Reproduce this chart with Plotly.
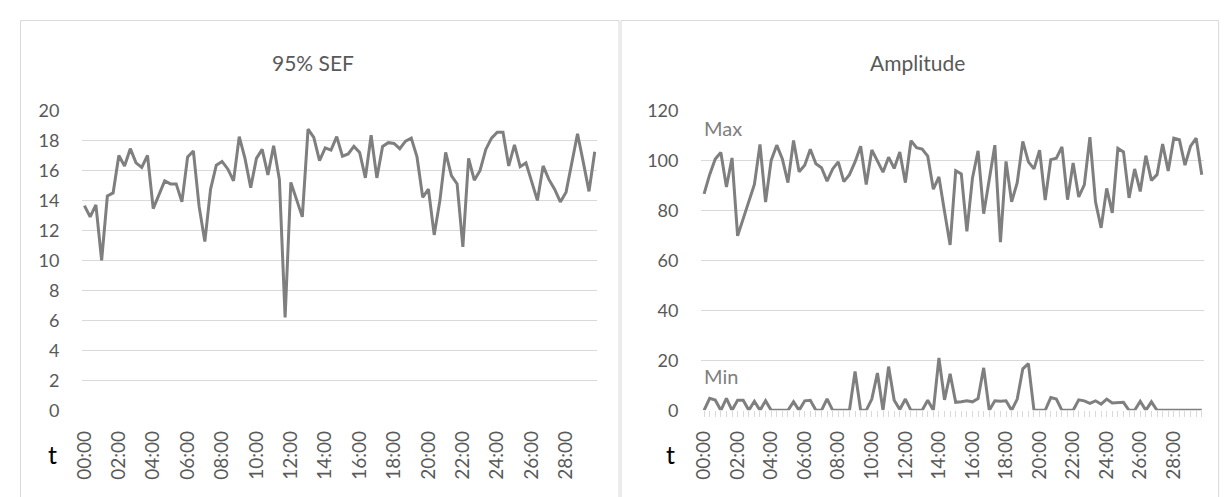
import plotly.graph_objects as go

times = ["00:00","00:20","00:40","01:00","01:20","01:40","02:00","02:20","02:40","03:00",
         "03:20","03:40","04:00","04:20","04:40","05:00","05:20","05:40","06:00","06:20",
         "06:40","07:00","07:20","07:40","08:00","08:20","08:40","09:00","09:20","09:40",
         "10:00","10:20","10:40","11:00","11:20","11:40","12:00","12:20","12:40","13:00",
         "13:20","13:40","14:00","14:20","14:40","15:00","15:20","15:40","16:00","16:20",
         "16:40","17:00","17:20","17:40","18:00","18:20","18:40","19:00","19:20","19:40",
         "20:00","20:20","20:40","21:00","21:20","21:40","22:00","22:20","22:40","23:00",
         "23:20","23:40","24:00","24:20","24:40","25:00","25:20","25:40","26:00","26:20",
         "26:40","27:00","27:20","27:40","28:00","28:20","28:40","29:00","29:20","29:40"]

tick_labels = ["00:00","02:00","04:00","06:00","08:00","10:00","12:00","14:00",
               "16:00","18:00","20:00","22:00","24:00","26:00","28:00"]

sef = [13.65, 12.9, 13.7, 10.0, 14.3, 14.5, 17.0, 16.3, 17.45, 16.5,
       16.2, 17.0, 13.45, 14.4, 15.3, 15.1, 15.1, 13.9, 16.9, 17.3,
       13.6, 11.25, 14.75, 16.35, 16.6, 16.1, 15.3, 18.25, 16.8, 14.85,
       16.8, 17.4, 15.7, 17.65, 15.4, 6.2, 15.2, 14.05, 12.9, 18.75,
       18.2, 16.65, 17.5, 17.35, 18.25, 16.95, 17.1, 17.6, 17.2, 15.5,
       18.35, 15.5, 17.6, 17.85, 17.8, 17.45, 17.95, 18.15, 16.9, 14.2,
       14.75, 11.7, 14.0, 17.2, 15.65, 15.1, 10.9, 16.8, 15.35, 16.0,
       17.4, 18.15, 18.55, 18.55, 16.3, 17.7, 16.25, 16.5, 15.2, 14.0,
       16.3, 15.4, 14.75, 13.9, 14.55, 16.55, 18.45, 16.55, 14.6, 17.25]

amp_max = [86.6, 94.3, 100.6, 103.2, 89.4, 101.0, 69.8, 76.7, 83.6, 90.4,
           106.4, 83.3, 100.0, 106.1, 100.6, 91.1, 108.0, 95.5, 98.1, 104.5,
           98.7, 97.1, 91.7, 96.6, 99.4, 91.5, 94.3, 99.4, 105.7, 90.4,
           104.2, 99.4, 95.3, 101.3, 96.8, 103.4, 91.1, 107.9, 105.1, 104.5,
           101.7, 88.5, 93.4, 79.6, 66.2, 95.9, 94.6, 71.6, 93.0, 103.8,
           78.7, 92.4, 106.1, 67.3, 99.6, 83.4, 91.1, 107.6, 99.4, 96.6,
           104.1, 84.1, 100.3, 100.9, 105.4, 84.3, 99.0, 85.4, 90.2, 109.3,
           83.4, 73.0, 88.8, 79.0, 104.8, 103.4, 85.0, 96.6, 87.6, 101.9,
           92.0, 94.3, 106.6, 95.8, 108.9, 108.3, 98.1, 105.7, 108.9, 94.3]

amp_min = [0, 4.8, 4.1, 0, 4.8, 0, 4.0, 4.0, 0, 3.6,
           0, 3.8, 0, 0, 0, 0, 3.4, 0, 3.8, 4.0,
           0, 0, 4.6, 0, 0, 0, 0, 15.5, 0, 0,
           4.5, 14.9, 0, 17.5, 4.0, 0.3, 4.5, 0, 0, 0,
           4.0, 0, 21.0, 4.2, 14.6, 3.2, 3.4, 3.8, 3.4, 4.7,
           17.0, 0, 3.8, 3.6, 3.8, 0, 4.5, 16.6, 18.7, 0,
           0, 0, 5.1, 4.5, 0, 0, 0, 4.2, 3.8, 2.8,
           3.8, 2.5, 4.5, 2.9, 3.2, 3.2, 0, 0, 3.6, 0,
           3.4, 0, 0, 0, 0, 0, 0, 0, 0, 0]

# page body has an 8px margin; figure is sized so it ends at the window edge
OFF = 8
W, H = 1228 - OFF, 497 - OFF
FONT = "Lato, 'Open Sans', sans-serif"
LINE = "#7f7f7f"
GRID = "#d9d9d9"
TXT = "#595959"

def px(x):
    return (x - OFF) / W

def py(y):
    return (H - (y - OFF)) / H

fig = go.Figure()
fig.add_trace(go.Scatter(x=times, y=sef, mode="lines", line=dict(color=LINE, width=3),
                         xaxis="x", yaxis="y", showlegend=False, hoverinfo="skip"))
fig.add_trace(go.Scatter(x=times, y=amp_max, mode="lines", line=dict(color=LINE, width=3),
                         xaxis="x2", yaxis="y2", showlegend=False, hoverinfo="skip"))
fig.add_trace(go.Scatter(x=times, y=amp_min, mode="lines", line=dict(color=LINE, width=3),
                         xaxis="x2", yaxis="y2", showlegend=False, hoverinfo="skip"))

ydom = [py(416.7), py(102.7)]

right_ticktext = [t if t in tick_labels else "" for t in times]

fig.update_layout(
    width=W, height=H, autosize=False,
    margin=dict(l=0, r=0, t=0, b=0),
    paper_bgcolor="white", plot_bgcolor="white",
    font=dict(family=FONT, color=TXT, size=18),
    xaxis=dict(domain=[px(72), px(591)], type="category", categoryorder="array",
               categoryarray=times, range=[-0.35, 89.35],
               tickmode="array", tickvals=tick_labels, ticktext=tick_labels,
               tickangle=-90, ticks="outside", ticklen=6, tickcolor="rgba(0,0,0,0)",
               ticklabelstandoff=6, showgrid=False, showline=False, zeroline=False,
               tickfont=dict(size=19, color=TXT, family=FONT), anchor="y"),
    yaxis=dict(domain=ydom, range=[0, 20], tickmode="array",
               tickvals=[0, 2, 4, 6, 8, 10, 12, 14, 16, 18, 20],
               showgrid=True, gridcolor=GRID, gridwidth=1.3, zeroline=False,
               showline=False, ticks="", ticklabelstandoff=22,
               tickfont=dict(size=18, color=TXT, family=FONT), anchor="x"),
    xaxis2=dict(domain=[px(696.7), px(1204)], type="category", categoryorder="array",
                categoryarray=times, range=[-0.46, 89.44],
                tickmode="array", tickvals=times, ticktext=right_ticktext,
                tickangle=-90, ticks="outside", ticklen=6, tickcolor=GRID, tickwidth=1,
                ticklabelstandoff=6, showgrid=False, showline=False, zeroline=False,
                tickfont=dict(size=19, color=TXT, family=FONT), anchor="y2"),
    yaxis2=dict(domain=ydom, range=[0, 120], tickmode="array",
                tickvals=[0, 20, 40, 60, 80, 100, 120],
                showgrid=True, gridcolor=GRID, gridwidth=1.3, zeroline=False,
                showline=False, ticks="", ticklabelstandoff=22,
                tickfont=dict(size=18, color=TXT, family=FONT), anchor="x2"),
)

# panel borders
for x0, x1 in [(9.5, 613.5), (615.5, 1218.5)]:
    fig.add_shape(type="rect", xref="paper", yref="paper",
                  x0=px(x0), x1=px(x1), y0=-0.05, y1=py(8.5),
                  line=dict(color=GRID, width=1), fillcolor="rgba(0,0,0,0)", layer="below")

annotations = [
    dict(text="95% SEF", x=px(305), y=py(53), xanchor="center",
         font=dict(size=21, color=TXT, family=FONT)),
    dict(text="Amplitude", x=px(915), y=py(53), xanchor="center",
         font=dict(size=21, color=TXT, family=FONT)),
    dict(text="t", x=px(42), y=py(462), xanchor="center",
         font=dict(size=25, color="black", family=FONT)),
    dict(text="t", x=px(665), y=py(462), xanchor="center",
         font=dict(size=25, color="black", family=FONT)),
    dict(text="Max", x=px(697), y=py(121), xanchor="left",
         font=dict(size=20, color=LINE, family=FONT)),
    dict(text="Min", x=px(697), y=py(381), xanchor="left",
         font=dict(size=20, color=LINE, family=FONT)),
]
for a in annotations:
    fig.add_annotation(xref="paper", yref="paper", showarrow=False,
                       yanchor="middle", **a)

fig.write_html("out.html", config={"displayModeBar": False})
